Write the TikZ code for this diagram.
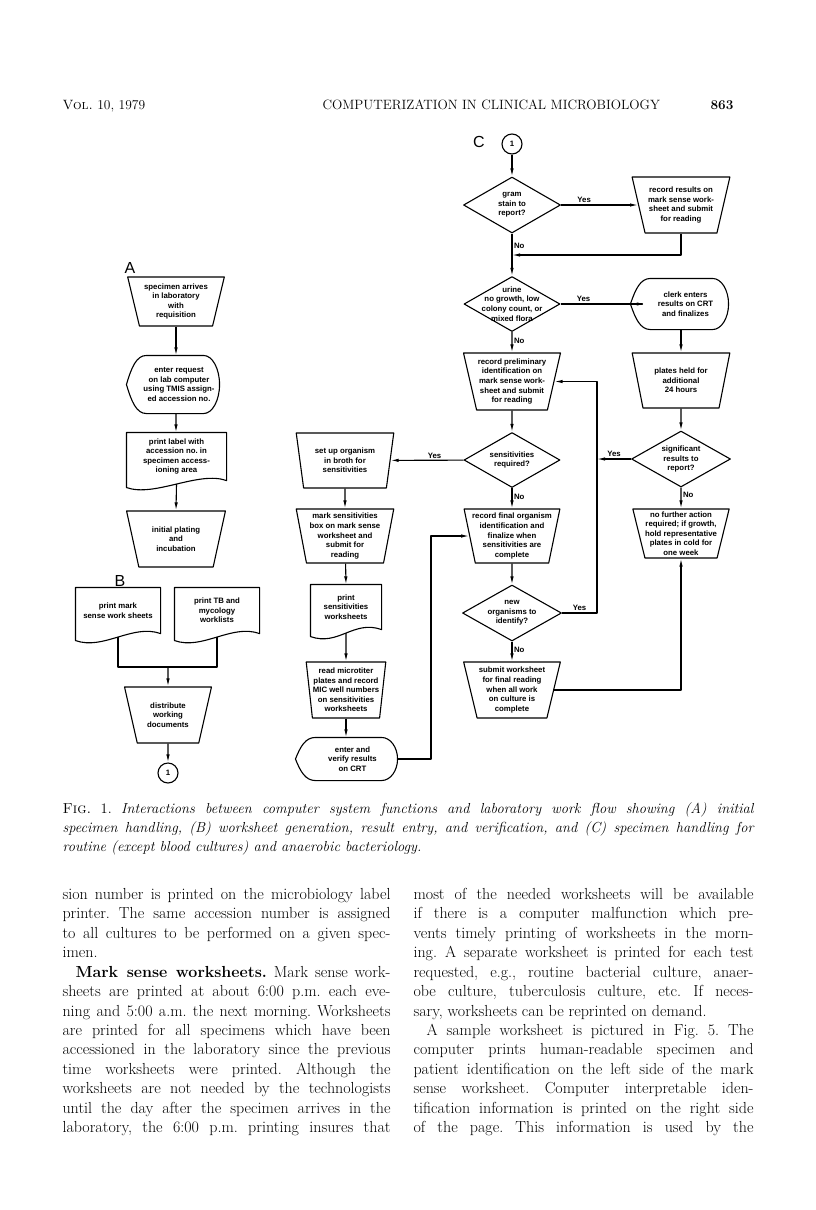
\documentclass[tikz,border=0pt]{standalone}
\usepackage{fontspec}
\newfontfamily\chartfont{Liberation Sans}
\usetikzlibrary{shapes.geometric,arrows.meta,positioning,calc}
\frenchspacing

% outline of a document symbol round a plain node
\newcommand{\docshape}[1]{%
  \draw ($(#1.south west)+(0,7)$) -- (#1.north west) -- (#1.north east) -- (#1.south east)
    .. controls +(-28,-10) and +(28,10) .. ($(#1.south west)+(0,7)$) -- cycle;}
% outline of a display symbol round a plain node (#2 = half height)
\newcommand{\dispshape}[2]{%
  \draw ($(#1.west)+(-12,0)$) .. controls +(5,-0.6*#2) and +(-10,0) .. ($(#1.north west)+(8,0)$)
    -- ($(#1.north east)+(-16,0)$) .. controls +(9,0) and +(0,-0.55*#2) .. (#1.east)
    .. controls +(0,0.55*#2) and +(9,0) .. ($(#1.south east)+(-16,0)$)
    -- ($(#1.south west)+(8,0)$) .. controls +(-10,0) and +(5,0.6*#2) .. ($(#1.west)+(-12,0)$) -- cycle;}

\begin{document}
\begin{tikzpicture}[x=1pt, y=-1pt, line width=1.1pt, line join=round, >={Latex[length=8pt,width=3.4pt]},
    chart/.style={font=\chartfont\bfseries\fontsize{7.8}{9.6}\selectfont, align=center, inner xsep=-8pt, inner ysep=0pt},
    trap/.style={chart, draw, trapezium, trapezium stretches=true, shape border rotate=180,
                 trapezium left angle=78, trapezium right angle=78},
    decide/.style={draw, diamond, inner sep=0pt},
    dtext/.style={chart, inner sep=0pt},
    plain/.style={chart},
    lbl/.style={font=\chartfont\bfseries\fontsize{7.8}{8}\selectfont, inner sep=1.5pt},
    conn/.style={draw, circle, minimum size=20pt, inner sep=0pt, font=\chartfont\bfseries\fontsize{7.8}{8}\selectfont},
    sect/.style={font=\chartfont\fontsize{16}{16}\selectfont, inner sep=0pt},
    head/.style={font=\fontsize{13.5}{15}\selectfont, inner sep=0pt, anchor=base west},
    capt/.style={font=\itshape\fontsize{14.5}{17}\selectfont, inner sep=0pt, anchor=base west},
    txt/.style={font=\fontsize{16}{19}\selectfont, inner sep=0pt, anchor=base west}
]
    \path[use as bounding box, fill=white] (0,0) rectangle (816,1210);

    % running head
    \node[head] (vol) at (62,109) {\textsc{Vol.} 10, 1979};
    \node[head] (title) at (322,109) {COMPUTERIZATION IN CLINICAL MICROBIOLOGY};
    \node[head] (page) at (710,109) {\textbf{863}};

    % A: specimen handling
    \node[sect] (la) at (130,268) {A};
    \node[trap, minimum width=97pt, minimum height=49pt] (a1) at (176,301.5) {specimen arrives\\in laboratory\\with\\requisition};
    \node[plain, minimum width=80pt, minimum height=57pt] (a2) at (179,384.5) {enter request\\on lab computer\\using TMIS assign-\\ed accession no.};
    \node[plain, minimum width=99pt, minimum height=47pt] (a3) at (176.5,456.5) {print label with\\accession no. in\\specimen access-\\ioning area};
    \node[trap, minimum width=99pt, minimum height=56pt] (a4) at (176,539) {initial plating\\and\\incubation};
    \dispshape{a2}{28.5}
    \docshape{a3}

    \draw[->] (a1.south) -- (a1.south |- a2.north);
    \draw[->] (a1.south |- a2.south) -- ($(a3.north)+(-0.5,0)$);
    \draw[->] ($(a3.south)+(0,3.5)$) -- (a4.north);

    % B: worksheets
    \node[sect] (lb) at (120,581) {B};
    \node[plain, minimum width=84pt, minimum height=45pt] (b1) at (118,610.5) {print mark\\sense work sheets};
    \node[plain, minimum width=84pt, minimum height=45pt] (b2) at (217,610.5) {print TB and\\mycology\\worklists};
    \docshape{b1}
    \docshape{b2}
    \node[trap, minimum width=87pt, minimum height=56pt] (b3) at (168,715) {distribute\\working\\documents};
    \node[conn] (c1) at (168,773) {1};
    \coordinate (bj) at (168,667);

    \draw ($(b1.south)+(0,3.5)$) |- (bj) -| ($(b2.south)+(0,3.5)$);
    \draw[->] (bj) -- (b3.north);
    \draw[->] (b3) -- (c1);

    % C: routine and anaerobic bacteriology
    \node[sect] (lc) at (479,142) {C};
    \node[conn] (c2) at (512,144) {1};
    \node[decide, minimum width=97pt, minimum height=56pt, label={[dtext]center:{gram\\stain to\\report?}}] (d1) at (512,205) {};
    \node[trap, minimum width=98pt, minimum height=56pt, trapezium left angle=76, trapezium right angle=76] (r1) at (681,205) {record results on\\mark sense work-\\sheet and submit\\for reading};
    \node[decide, minimum width=96pt, minimum height=55pt, label={[dtext]center:{urine\\no growth, low\\colony count, or\\mixed flora}}] (d2) at (512,304) {};
    \node[plain, minimum width=85pt, minimum height=50pt] (r2) at (685.5,304) {clerk enters\\results on CRT\\and finalizes};
    \dispshape{r2}{25}
    \node[trap, minimum width=98pt, minimum height=55pt] (r3) at (681,380.5) {plates held for\\additional\\24 hours};
    \node[decide, minimum width=99pt, minimum height=56pt, label={[dtext]center:{significant\\results to\\report?}}] (d4) at (681,459) {};
    \node[trap, minimum width=97pt, minimum height=49pt] (r4) at (681,533.5) {no further action\\required; if growth,\\hold representative\\plates in cold for\\one week};

    \node[trap, minimum width=97pt, minimum height=57pt] (m1) at (512,381.5) {record preliminary\\identification on\\mark sense work-\\sheet and submit\\for reading};
    \node[decide, minimum width=96pt, minimum height=55pt, label={[dtext]center:{sensitivities\\required?}}] (d3) at (512,460) {};
    \node[trap, minimum width=96pt, minimum height=54pt] (m2) at (512,536) {record final organism\\identification and\\finalize when\\sensitivities are\\complete};
    \node[decide, minimum width=99pt, minimum height=56pt, label={[dtext]center:{new\\organisms to\\identify?}}] (d5) at (512,613) {};
    \node[trap, minimum width=97pt, minimum height=56pt] (m3) at (512,690) {submit worksheet\\for final reading\\when all work\\on culture is\\complete};

    \node[trap, minimum width=98pt, minimum height=55pt, trapezium left angle=81, trapezium right angle=81] (l1) at (345,460.5) {set up organism\\in broth for\\sensitivities};
    \node[trap, minimum width=98pt, minimum height=54pt, trapezium left angle=81, trapezium right angle=81] (l2) at (345,536) {mark sensitivities\\box on mark sense\\worksheet and\\submit for\\reading};
    \node[plain, minimum width=70pt, minimum height=44pt] (l3) at (346,607) {print\\sensitivities\\worksheets};
    \docshape{l3}
    \node[trap, minimum width=80pt, minimum height=56pt, trapezium left angle=84, trapezium right angle=84] (l4) at (346,690) {read microtiter\\plates and record\\MIC well numbers\\on sensitivities\\worksheets};
    \node[plain, minimum width=89pt, minimum height=42pt] (l5) at (352.5,759) {enter and\\verify results\\on CRT};
    \dispshape{l5}{21}

    \coordinate (j1) at (512,255);
    \coordinate (j2) at (597,459);
    \coordinate (j3) at (597,613);
    \coordinate (j4) at (431,759);

    \draw[->] (c2) -- (d1);
    \draw[->] (d1) -- node[lbl, above, pos=0.3] {Yes} (r1);
    \draw[->] (r1.south) |- (j1);
    \draw[->] (d1) -- node[lbl, right, pos=0.3] {No} (d2);
    \draw[->] (d2) -- node[lbl, above, pos=0.28] {Yes} (d2 -| r2.west) -- ++(-12,0);
    \draw[->] (r3.north |- r2.south) -- (r3.north);
    \draw[->] (r3) -- (d4);
    \draw[->] (d4) -- node[lbl, above] {Yes} (j2);
    \draw[->] (d4) -- node[lbl, right, pos=0.35] {No} (r4);
    \draw[->] (d2) -- node[lbl, right, pos=0.43] {No} (m1);
    \draw[->] (m1) -- (d3);
    \draw[->] (d3) -- node[lbl, above, pos=0.4] {Yes} (l1);
    \draw[->] (d3) -- node[lbl, right, pos=0.45] {No} (m2);
    \draw[->] (m2) -- (d5);
    \draw[->] (d5) -- node[lbl, above] {Yes} (j3) |- (m1);
    \draw[->] (d5) -- node[lbl, right, pos=0.4] {No} (m3);
    \draw[->] (m3.east) -| (r4.south);
    \draw[->] (l1) -- (l2);
    \draw[->] (l2) -- (l3.north);
    \draw[->] ($(l3.south)+(0,3.5)$) -- (l4.north);
    \draw[->] (l4.south) -- (l4.south |- l5.north);
    \draw[->] (l5.east) -- (j4) |- (m2);

    % caption
    \node[capt] (cap1) at (62,813) {\makebox[691pt][s]{\upshape\textsc{Fig.} 1. \itshape Interactions between computer system functions and laboratory work flow showing (A) initial}};
    \node[capt] (cap2) at (62,832) {\makebox[691pt][s]{specimen handling, (B) worksheet generation, result entry, and verification, and (C) specimen handling for}};
    \node[capt] (cap3) at (62,851) {routine (except blood cultures) and anaerobic bacteriology.};

    % text columns
    \foreach \t [count=\i] in {
        {sion number is printed on the microbiology label},
        {printer. The same accession number is assigned},
        {to all cultures to be performed on a given spec-},
        {imen.\hfill},
        {\hspace*{13pt}\textbf{Mark sense worksheets.} Mark sense work-},
        {sheets are printed at about 6:00 p.m. each eve-},
        {ning and 5:00 a.m. the next morning. Worksheets},
        {are printed for all specimens which have been},
        {accessioned in the laboratory since the previous},
        {time worksheets were printed. Although the},
        {worksheets are not needed by the technologists},
        {until the day after the specimen arrives in the},
        {laboratory, the 6:00 p.m. printing insures that}}
      \node[txt] (tl\i) at (62,{899.5+19.42*(\i-1)}) {\makebox[328pt][s]{\t}};
    \foreach \t [count=\i] in {
        {most of the needed worksheets will be available},
        {if there is a computer malfunction which pre-},
        {vents timely printing of worksheets in the morn-},
        {ing. A separate worksheet is printed for each test},
        {requested, e.g., routine bacterial culture, anaer-},
        {obe culture, tuberculosis culture, etc. If neces-},
        {sary, worksheets can be reprinted on demand.\hfill},
        {\hspace*{13pt}A sample worksheet is pictured in Fig. 5. The},
        {computer prints human-readable specimen and},
        {patient identification on the left side of the mark},
        {sense worksheet. Computer interpretable iden-},
        {tification information is printed on the right side},
        {of the page. This information is used by the}}
      \node[txt] (tr\i) at (413,{899.5+19.42*(\i-1)}) {\makebox[340pt][s]{\t}};
\end{tikzpicture}
\end{document}
